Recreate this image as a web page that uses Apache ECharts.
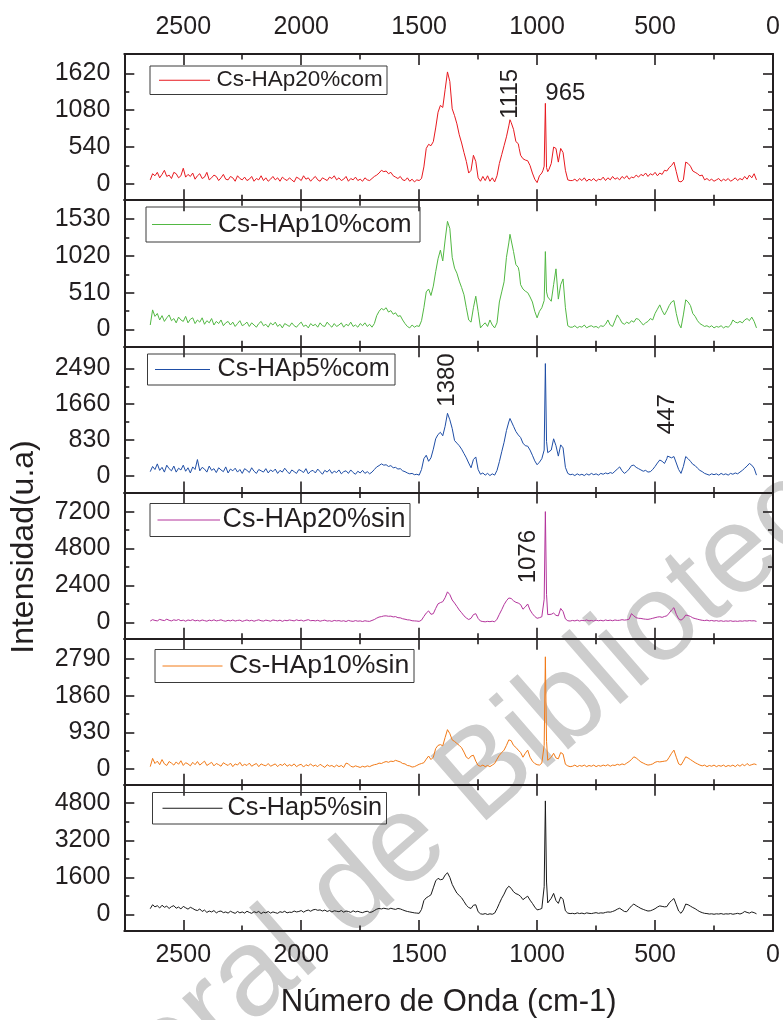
<!DOCTYPE html>
<html>
<head>
<meta charset="utf-8">
<script src="https://cdn.jsdelivr.net/npm/echarts@6/dist/echarts.min.js"></script>
<style>
  html, body { margin: 0; padding: 0; background: #ffffff; }
  #chart { width: 783px; height: 1020px; }
</style>
</head>
<body>
<div id="chart"></div>
<script>
// Raman shift sampling (cm-1), shared by all six spectra
const waveNumbers = [
  2640, 2630, 2620, 2610, 2600, 2590, 2580, 2570, 2560, 2550,
  2540, 2530, 2520, 2510, 2500, 2490, 2480, 2470, 2460, 2450,
  2440, 2430, 2420, 2410, 2400, 2390, 2380, 2370, 2360, 2350,
  2340, 2330, 2320, 2310, 2300, 2290, 2280, 2270, 2260, 2250,
  2240, 2230, 2220, 2210, 2200, 2190, 2180, 2170, 2160, 2150,
  2140, 2130, 2120, 2110, 2100, 2090, 2080, 2070, 2060, 2050,
  2040, 2030, 2020, 2010, 2000, 1990, 1980, 1970, 1960, 1950,
  1940, 1930, 1920, 1910, 1900, 1890, 1880, 1870, 1860, 1850,
  1840, 1830, 1820, 1810, 1800, 1790, 1780, 1770, 1760, 1750,
  1740, 1730, 1720, 1710, 1700, 1690, 1680, 1670, 1660, 1650,
  1640, 1630, 1620, 1610, 1600, 1590, 1580, 1570, 1560, 1550,
  1540, 1530, 1520, 1510, 1500,
  1490, 1480, 1470, 1460, 1450, 1440, 1430, 1420, 1410, 1400, 1390, 1380, 1370, 1360, 1350, 1340, 1330, 1320, 1310, 1300,
  1290, 1280, 1270, 1260, 1250, 1240, 1230, 1220, 1210, 1200, 1190, 1180, 1170, 1160, 1150, 1140, 1130, 1120, 1115, 1110,
  1100, 1090, 1080, 1076, 1070, 1060, 1050, 1040, 1030, 1020, 1010, 1000, 990, 980, 975, 970, 965, 960, 955, 950,
  940, 930, 920, 910, 900, 890, 880, 870, 860,
  850, 840, 830, 820, 810, 800, 790, 780, 770, 760,
  750, 740, 730, 720, 710, 700, 690, 680, 670, 660,
  650, 640, 630, 620, 610, 600, 590, 580, 570, 560,
  550, 540, 530, 520, 510, 500, 490, 480, 470, 460,
  450, 447,
  440, 430, 420, 410, 400, 390, 380, 370, 360, 350,
  340, 330, 320, 310, 300, 290, 280, 270, 260, 250,
  240, 230, 220, 210, 200, 190, 180, 170, 160, 150,
  140, 130, 120, 110, 100, 90, 80, 70
];

// Intensities (u.a) at each wavenumber above
const csHAp20com = [
  60, 150, 120, 170, 90, 140, 200, 110, 130, 80,
  170, 150, 90, 120, 230, 100, 140, 110, 160, 70,
  120, 150, 80, 100, 170, 60, 90, 130, 110, 50,
  90, 140, 70, 60, 110, 90, 40, 120, 80, 60,
  100, 50, 70, 110, 40, 80, 60, 120, 50, 90,
  40, 70, 110, 60, 90, 40, 100, 70, 50, 90,
  60, 30, 100, 80, 50, 120, 70, 90, 40, 80,
  110, 60, 40, 90, 70, 50, 100, 80, 120, 60,
  90, 50, 70, 110, 40, 80, 60, 100, 50, 70,
  40, 90, 60, 50, 80, 110, 130, 160, 200, 180,
  190, 150, 170, 120, 100, 80, 110, 60, 50, 90,
  40, 70, 30, 60, 50,
  80, 250, 520, 580, 560, 620, 820, 1050, 1150, 1120, 1380, 1640, 1500, 1100, 1000, 880, 720, 600, 460, 330,
  160, 200, 420, 330, 90, 40, 110, 50, 120, 40, 90, 30, 120, 300, 430, 560, 690, 850, 940, 900,
  800, 620, 590, 520, 420, 370, 350, 340, 270, 160, 70, 20, 120, 160, 200, 260, 1180, 240, 180, 210,
  300, 540, 520, 320, 520, 460, 200, 60, 50,
  50, 70, 40, 80, 50, 90, 40, 70, 50, 80,
  40, 70, 60, 100, 50, 90, 60, 110, 70, 90,
  60, 110, 80, 120, 70, 100, 90, 130, 100, 140,
  120, 160, 110, 150, 130, 170, 120, 160, 140, 200,
  190, 210,
  240, 270, 320, 180, 40, 30, 60, 320, 300, 260,
  190, 170, 150, 120, 130, 60, 80, 50, 70, 40,
  60, 80, 40, 70, 50, 80, 40, 60, 90, 50,
  80, 60, 110, 70, 130, 90, 150, 60
];
const csHAp10com = [
  60, 270, 180, 220, 130, 190, 110, 160, 200, 120,
  150, 90, 170, 130, 110, 180, 90, 140, 160, 80,
  130, 100, 160, 70, 120, 90, 150, 60, 110, 80,
  130, 50, 90, 110, 60, 100, 40, 80, 120, 50,
  70, 100, 40, 90, 60, 30, 80, 110, 50, 70,
  30, 90, 60, 100, 40, 70, 20, 80, 60, 40,
  90, 50, 30, 70, 100, 40, 60, 20, 80, 50,
  70, 30, 90, 50, 40, 100, 60, 30, 80, 40,
  60, 90, 30, 70, 50, 100, 40, 60, 30, 80,
  50, 90, 40, 70, 30, 80, 190, 250, 290, 270,
  300, 240, 260, 210, 230, 180, 190, 130, 80, 40,
  20, 60, 30, 50, 40,
  120, 300, 520, 560, 470, 600, 800, 980, 1100, 950, 1240, 1500, 1400, 1000, 850, 780, 670, 580, 480, 300,
  130, 100, 300, 460, 250, 20, 60, 90, 40, 130, 60, 20, 90, 380, 520, 660, 1000, 1200, 1320, 1300,
  1080, 900, 860, 800, 620, 560, 530, 510, 450, 380, 250, 160, 250, 300, 320, 400, 1080, 520, 450, 440,
  390, 620, 840, 420, 620, 700, 300, 50, 30,
  30, 50, 20, 40, 30, 60, 20, 40, 50, 30,
  40, 20, 50, 40, 70, 130, 60, 40, 120, 200,
  150, 90, 70, 100, 80, 120, 100, 150, 140, 100,
  60, 90, 110, 150, 130, 220, 280, 340, 260, 200,
  260, 280,
  330, 380, 400, 220, 80, 20, 200, 410, 380, 330,
  220, 180, 120, 80, 60, 40, 50, 30, 50, 20,
  40, 30, 50, 20, 40, 30, 60, 130, 100, 90,
  110, 90, 130, 150, 120, 170, 110, 20
];
const csHAp5com = [
  100, 220, 150, 280, 130, 200, 90, 250, 170, 120,
  230, 90, 180, 140, 250, 110, 190, 70, 210, 150,
  380, 120, 200, 160, 90, 230, 130, 170, 80, 190,
  140, 100, 210, 70, 160, 120, 180, 90, 150, 60,
  170, 130, 80, 190, 110, 60, 150, 120, 90, 170,
  70, 140, 100, 160, 60, 130, 90, 180, 110, 50,
  140, 100, 60, 150, 120, 80, 170, 50, 110, 130,
  70, 160, 100, 40, 130, 90, 150, 60, 110, 80,
  140, 50, 100, 120, 60, 140, 80, 40, 110, 70,
  130, 60, 100, 50, 90, 150, 210, 240, 280, 250,
  260, 220, 240, 190, 200, 160, 170, 120, 100, 70,
  50, 60, 30, 40, 20,
  150, 400, 480, 340, 420, 620, 860, 960, 1010, 930, 1150, 1450, 1300, 1100, 820, 760, 700, 620, 520, 420,
  300, 190, 380, 440, 150, 40, 70, 20, 60, 10, 50, 20, 130, 330, 560, 780, 1050, 1250, 1330, 1300,
  1150, 1030, 950, 920, 890, 760, 700, 690, 600, 480, 350, 260, 320, 400, 420, 600, 2600, 800, 540, 520,
  600, 860, 700, 460, 720, 650, 200, 60, 30,
  40, 10, 50, 20, 40, 10, 50, 20, 60, 30,
  50, 20, 60, 40, 70, 50, 80, 60, 110, 160,
  210, 120, 60, 100, 160, 240, 250, 200, 170, 140,
  110, 130, 90, 100, 150, 220, 300, 370, 340, 290,
  400, 460,
  430, 420, 450, 300, 150, 60, 220, 450, 400, 340,
  270, 240, 180, 130, 100, 60, 40, 20, 50, 30,
  50, 20, 60, 30, 50, 20, 60, 40, 70, 50,
  90, 130, 180, 230, 290, 250, 180, 20
];
const csHAp20sin = [
  80, 170, 120, 90, 190, 140, 110, 200, 130, 90,
  160, 120, 180, 100, 140, 70, 150, 110, 170, 90,
  130, 80, 150, 110, 70, 140, 100, 160, 90, 120,
  160, 100, 70, 130, 90, 150, 80, 120, 140, 60,
  110, 150, 90, 130, 70, 120, 160, 100, 80, 140,
  110, 70, 150, 120, 90, 140, 60, 130, 100, 150,
  120, 90, 160, 110, 140, 80, 130, 170, 100, 120,
  90, 130, 70, 110, 140, 80, 100, 60, 120, 90,
  110, 70, 100, 50, 120, 80, 60, 110, 70, 90,
  50, 100, 70, 60, 120, 180, 270, 340, 370, 410,
  420, 390, 400, 350, 370, 300, 290, 230, 200, 160,
  150, 100, 90, 80, 60,
  140, 380, 600, 740, 520, 560, 900, 1200, 1280, 1340, 1600, 1980, 1800, 1450, 1250, 1030, 800, 620, 420, 280,
  180, 260, 500, 560, 250, 80, 50, 30, 60, 40, 70, 30, 200, 520, 820, 1150, 1400, 1580, 1620, 1550,
  1400, 1300, 1250, 1230, 1150, 850, 1000, 1190, 800, 560, 380, 260, 300, 360, 400, 1500, 7200, 1800, 500, 450,
  520, 600, 450, 420, 900, 700, 220, 100, 80,
  120, 90, 140, 80, 130, 100, 150, 90, 120, 80,
  140, 100, 130, 90, 150, 110, 140, 100, 150, 120,
  130, 170, 140, 160, 200, 560, 420, 300, 260, 250,
  220, 200, 190, 220, 260, 300, 340, 360, 320, 380,
  420, 470,
  600, 800, 950, 520, 220, 140, 250, 470, 440, 380,
  290, 240, 200, 160, 130, 110, 140, 90, 120, 80,
  110, 70, 100, 60, 90, 70, 100, 60, 80, 60,
  90, 70, 100, 80, 110, 90, 100, 60
];
const csHAp10sin = [
  60, 270, 140, 200, 110, 240, 130, 90, 190, 150,
  100, 180, 120, 210, 90, 160, 130, 80, 170, 110,
  190, 100, 150, 200, 90, 130, 170, 80, 140, 110,
  70, 160, 120, 90, 150, 60, 130, 100, 170, 80,
  120, 90, 150, 70, 110, 140, 60, 130, 100, 80,
  140, 70, 100, 130, 60, 120, 90, 140, 70, 110,
  80, 130, 60, 100, 120, 50, 110, 80, 130, 70,
  100, 60, 120, 80, 40, 110, 70, 90, 50, 100,
  60, 90, 40, 150, 130, 70, 50, 80, 60, 40,
  70, 50, 80, 60, 90, 110, 120, 150, 140, 170,
  190, 170, 200, 190, 220, 200, 180, 140, 130, 90,
  80, 50, 60, 90, 120,
  140, 160, 250, 330, 240, 300, 520, 600, 620, 590, 800, 1000, 900, 740, 700, 650, 600, 540, 430, 300,
  260, 330, 350, 200, 90, 70, 100, 60, 90, 60, 100, 140, 250, 350, 420, 480, 600, 740, 780, 720,
  600, 550, 480, 450, 420, 300, 400, 480, 300, 200, 140, 110, 100, 150, 190, 600, 2850, 700, 220, 200,
  300, 400, 280, 260, 420, 380, 120, 80, 60,
  70, 100, 60, 90, 70, 100, 60, 90, 70, 100,
  60, 90, 70, 100, 80, 110, 70, 100, 90, 120,
  100, 130, 110, 150, 190, 240, 310, 280, 230, 180,
  150, 120, 100, 110, 130, 170, 190, 180, 190, 200,
  210, 240,
  300, 400, 480, 300, 130, 100, 200, 310, 280, 240,
  200, 160, 130, 100, 80, 100, 60, 90, 70, 100,
  60, 90, 70, 100, 60, 90, 70, 100, 60, 110,
  70, 120, 80, 140, 90, 110, 130, 110
];
const csHap5sin = [
  250, 420, 330, 380, 280, 400, 310, 360, 260, 340,
  380, 270, 320, 240, 350, 290, 230, 310, 260, 200,
  170, 240, 130, 190, 90, 150, 110, 170, 70, 130,
  150, 80, 110, 60, 140, 90, 50, 130, 70, 110,
  60, 140, 90, 50, 120, 80, 130, 40, 100, 70,
  130, 60, 110, 80, 50, 120, 90, 140, 70, 100,
  90, 150, 110, 130, 170, 100, 160, 190, 140, 200,
  220, 180, 200, 150, 190, 130, 170, 110, 160, 140,
  120, 170, 100, 150, 130, 90, 160, 110, 140, 100,
  80, 120, 140, 90, 110, 170, 230, 260, 240, 270,
  250, 230, 270, 240, 220, 260, 240, 200, 160, 130,
  110, 90, 70, 60, 50,
  220, 600, 720, 780, 850, 1150, 1450, 1560, 1500, 1520, 1700, 1800, 1600, 1300, 1100, 920, 820, 720, 560, 400,
  300, 260, 400, 420, 120, 30, 10, 40, 0, 30, 10, 60, 250, 480, 700, 880, 1100, 1220, 1230, 1130,
  980, 900, 860, 840, 780, 640, 720, 790, 620, 480, 320, 200, 220, 260, 300, 1200, 4900, 1400, 500, 480,
  700, 910, 600, 480, 760, 650, 160, 60, 40,
  50, 30, 70, 40, 60, 30, 70, 50, 40, 60,
  80, 50, 70, 60, 90, 110, 100, 130, 170, 230,
  270, 200, 130, 120, 250, 370, 450, 380, 320, 260,
  220, 180, 150, 160, 200, 250, 320, 370, 350, 330,
  340, 400,
  500, 600, 690, 420, 150, 50, 200, 450, 420, 360,
  300, 250, 180, 120, 80, 50, 40, 20, 30, 10,
  30, 20, 40, 10, 30, 20, 40, 10, 30, 50,
  20, 60, 130, 90, 60, 110, 80, 30
];

const sampleNames = ['Cs-HAp20%com', 'Cs-HAp10%com', 'Cs-HAp5%com', 'Cs-HAp20%sin', 'Cs-HAp10%sin', 'Cs-Hap5%sin'];
const spectra = [csHAp20com, csHAp10com, csHAp5com, csHAp20sin, csHAp10sin, csHap5sin];
const lineColors = ['#e8191f', '#52b843', '#1f4ea6', '#b4349c', '#f27a17', '#1a1a1a'];

// Major tick step of each intensity axis (labels at 0, 1, 2, 3 steps)
const intensitySteps = [540, 510, 830, 2400, 930, 1600];
const waveTicks = [0, 500, 1000, 1500, 2000, 2500];
const waveMinorTicks = [250, 750, 1250, 1750, 2250];

// Peak annotations: wavenumber text and where it sits in data space
const peakNotes = [
  { panel: 0, text: '1115', x: 1115, y: 1320, vertical: true },
  { panel: 0, text: '965', x: 965, y: 1320, vertical: false },
  { panel: 2, text: '1380', x: 1380, y: 2220, vertical: true },
  { panel: 2, text: '447', x: 447, y: 1430, vertical: true },
  { panel: 3, text: '1076', x: 1038, y: 4270, vertical: true }
];

// ---- layout ----
const FONT = '"Liberation Sans", Arial, Helvetica, sans-serif';
const INK = '#231f20';
const plotLeft = 124.3, plotRight = 773, plotTop = 54, plotBottom = 931;
const panelH = (plotBottom - plotTop) / 6;
// lower / upper axis limits, in units of the major step
const panelSpan = [[0.439, 3.523], [0.463, 3.518], [0.46, 3.613], [0.444, 3.518], [0.432, 3.56], [0.445, 3.496]];
// legend boxes: [boxX, boxY, boxW, boxH, lineX1, lineX2, textX, fontSize]
const legendBoxes = [
  [150, 66, 237, 28.5, 159, 210, 216.5, 22.5],
  [146, 207, 274, 35, 152, 211, 218, 26.2],
  [147.5, 354, 247.5, 31, 155, 210, 217.5, 25.2],
  [150, 503.5, 260, 33, 157.5, 220, 222.5, 27],
  [155, 649.5, 259, 33, 162.5, 222.5, 229, 26.6],
  [152.5, 792.5, 234, 31.5, 162.5, 222.5, 227.5, 25.3]
];

const numFmt = v => String(Math.round(v));

const grids = [], xAxes = [], yAxes = [], series = [];
for (let i = 0; i < 6; i++) {
  grids.push({ left: plotLeft, width: plotRight - plotLeft, top: plotTop + i * panelH, height: panelH });

  const xBase = (pos, minor, showLabels) => ({
    type: 'value', gridIndex: i, position: pos, inverse: true, min: 0, max: 2750,
    splitLine: { show: false },
    axisLine: { show: !minor, onZero: false, lineStyle: { color: INK, width: 2 } },
    axisTick: { show: true, inside: true, length: minor ? 5.5 : 11,
      customValues: minor ? waveMinorTicks : waveTicks, lineStyle: { color: INK, width: 1.6 } },
    axisLabel: showLabels ? { show: true, customValues: waveTicks, formatter: numFmt,
      fontFamily: FONT, fontSize: 25, color: INK, margin: pos === 'top' ? 14 : 12 } : { show: false }
  });
  xAxes.push(xBase('bottom', false, i === 5));
  xAxes.push(xBase('bottom', true, false));
  xAxes.push(xBase('top', false, i === 0));
  xAxes.push(xBase('top', true, false));

  const s = intensitySteps[i];
  const major = [0, s, 2 * s, 3 * s];
  const minorVals = [s / 2, 1.5 * s, 2.5 * s];
  const yBase = (pos, minor, showLabels) => ({
    type: 'value', gridIndex: i, position: pos,
    min: -panelSpan[i][0] * s, max: panelSpan[i][1] * s,
    splitLine: { show: false },
    axisLine: { show: !minor, onZero: false, lineStyle: { color: INK, width: 2 } },
    axisTick: { show: true, inside: true, length: minor ? 5 : 10,
      customValues: minor ? minorVals : major, lineStyle: { color: INK, width: 1.6 } },
    axisLabel: showLabels ? { show: true, customValues: major, formatter: numFmt,
      fontFamily: FONT, fontSize: 25, color: INK, margin: 14 } : { show: false }
  });
  yAxes.push(yBase('left', false, true));
  yAxes.push(yBase('left', true, false));
  yAxes.push(yBase('right', false, false));
  yAxes.push(yBase('right', true, false));

  series.push({
    name: sampleNames[i], type: 'line', xAxisIndex: 4 * i, yAxisIndex: 4 * i,
    data: waveNumbers.map((w, k) => [w, spectra[i][k]]),
    showSymbol: false, symbol: 'none', silent: true, z: 3,
    lineStyle: { color: lineColors[i], width: 1 }, itemStyle: { color: lineColors[i] }
  });
}

const chart = echarts.init(document.getElementById('chart'), null, { renderer: 'canvas', width: 783, height: 1020 });
chart.setOption({
  animation: false,
  backgroundColor: '#ffffff',
  grid: grids, xAxis: xAxes, yAxis: yAxes, series: series
});

// legends, titles, watermark and peak labels
const graphics = [];
legendBoxes.forEach((b, i) => {
  const cy = b[1] + b[3] / 2;
  graphics.push({ type: 'rect', z: 10, shape: { x: b[0], y: b[1], width: b[2], height: b[3] },
    style: { fill: null, stroke: '#3a3a3a', lineWidth: 1 } });
  graphics.push({ type: 'line', z: 10, shape: { x1: b[4], y1: cy, x2: b[5], y2: cy },
    style: { stroke: lineColors[i], lineWidth: 1 } });
  graphics.push({ type: 'text', z: 10, x: b[6], y: cy,
    style: { text: sampleNames[i], fontFamily: FONT, fontSize: b[7], fill: INK, align: 'left', verticalAlign: 'middle' } });
});

peakNotes.forEach(n => {
  const p = chart.convertToPixel({ seriesIndex: n.panel }, [n.x, n.y]);
  graphics.push({ type: 'text', z: 10, x: p[0], y: p[1], rotation: n.vertical ? Math.PI / 2 : 0,
    style: { text: n.text, fontFamily: FONT, fontSize: 24, fill: INK,
      align: n.vertical ? 'center' : 'left', verticalAlign: 'middle' } });
});

graphics.push({ type: 'text', z: 10, x: (plotLeft + plotRight) / 2, y: 1002,
  style: { text: 'Número de Onda (cm-1)', fontFamily: FONT, fontSize: 31, fill: INK, align: 'center', verticalAlign: 'middle' } });
graphics.push({ type: 'text', z: 10, x: 24, y: 547, rotation: Math.PI / 2,
  style: { text: 'Intensidad(u.a)', fontFamily: FONT, fontSize: 32, fill: INK, align: 'center', verticalAlign: 'middle' } });

// library watermark crossing the figure
const wmAngle = 41 * Math.PI / 180;
const wmX = 497, wmY = 848;
graphics.push({ type: 'text', z: -5, x: wmX, y: wmY, rotation: wmAngle,
  style: { text: 'Dirección General de ', fontFamily: FONT, fontSize: 124, fill: '#cdcdcd', align: 'right', verticalAlign: 'bottom' } });
graphics.push({ type: 'text', z: -5, x: wmX, y: wmY, rotation: wmAngle,
  style: { text: 'Bibliotecas', fontFamily: FONT, fontSize: 124, fill: '#cdcdcd', align: 'left', verticalAlign: 'bottom' } });

chart.setOption({ graphic: graphics });
</script>
</body>
</html>
